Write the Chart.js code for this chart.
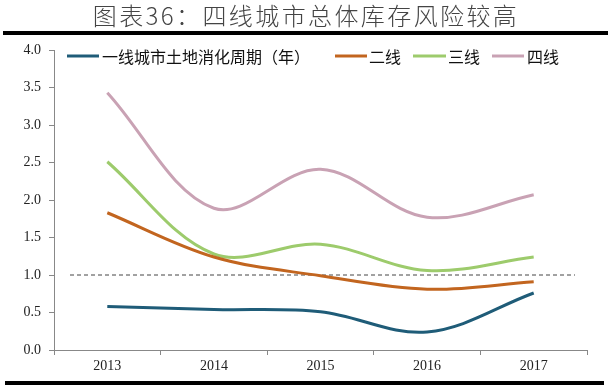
<!DOCTYPE html>
<html>
<head>
<meta charset="utf-8">
<script src="https://cdn.jsdelivr.net/npm/chart.js@4"></script>
<style>
  html, body { margin: 0; padding: 0; background: #fff; }
  #wrap { position: relative; width: 612px; height: 386px; overflow: hidden; }
  #title {
    position: absolute; left: 0; top: 0; width: 612px; height: 30px;
    text-align: center; line-height: 30px;
    font-family: "Noto Sans CJK SC", sans-serif; font-size: 24px; font-weight: 300;
    letter-spacing: 2.4px; color: #444;
  }
  .rule { position: absolute; background: #000; }
  #chart { position: absolute; left: 0; top: 0; }
</style>
</head>
<body>
<div id="wrap">
  <canvas id="chart" width="612" height="386"></canvas>
  <div id="title">图表36：四线城市总体库存风险较高</div>
  <div class="rule" style="left:3px; top:31px; width:605px; height:4px;"></div>
  <div class="rule" style="left:5px; top:381px; width:599px; height:4px;"></div>
</div>
<script>
// Data
const years = ['2013', '2014', '2015', '2016', '2017'];
const tier1 = [0.58, 0.54, 0.51, 0.24, 0.76];
const tier2 = [1.83, 1.24, 0.99, 0.81, 0.91];
const tier3 = [2.51, 1.28, 1.41, 1.06, 1.24];
const tier4 = [3.43, 1.89, 2.41, 1.77, 2.07];
const refLevel = 1.0;

const seriesNames = ['一线城市土地消化周期（年）', '二线', '三线', '四线'];
const colors = ['#1F5C78', '#C2651F', '#9DCB6C', '#C9A2B4'];

// Legend drawn inside the plot area
const legendPlugin = {
    id: 'insideLegend',
    afterDraw(chart) {
        const c = chart.ctx;
        const items = [
            { x0: 67, x1: 99, tx: 102 },
            { x0: 335, x1: 367, tx: 369 },
            { x0: 413, x1: 446, tx: 448 },
            { x0: 492, x1: 524, tx: 527 }
        ];
        const y = 56;
        c.save();
        c.font = '16px "Noto Sans CJK SC"';
        c.textBaseline = 'middle';
        items.forEach((it, k) => {
            c.strokeStyle = colors[k];
            c.lineWidth = 3;
            c.beginPath();
            c.moveTo(it.x0, y);
            c.lineTo(it.x1, y);
            c.stroke();
            c.fillStyle = '#111';
            c.fillText(seriesNames[k], it.tx, y + 1);
        });
        c.restore();
    }
};

// Dashed reference line at 1.0
const refLinePlugin = {
    id: 'refLine',
    beforeDatasetsDraw(chart) {
        const c = chart.ctx;
        const yPix = chart.scales.y.getPixelForValue(refLevel);
        c.save();
        c.strokeStyle = '#444';
        c.lineWidth = 1;
        c.setLineDash([4, 3]);
        c.beginPath();
        c.moveTo(chart.chartArea.left + 16, yPix);
        c.lineTo(chart.chartArea.right - 12, yPix);
        c.stroke();
        c.restore();
    }
};

const tickFont = { family: '"Liberation Serif", serif', size: 14 };

new Chart(document.getElementById('chart'), {
    type: 'line',
    data: {
        labels: years,
        datasets: [tier1, tier2, tier3, tier4].map((d, k) => ({
            label: seriesNames[k],
            data: d,
            borderColor: colors[k],
            borderWidth: 3,
            pointRadius: 0,
            tension: 0.35,
            fill: false
        }))
    },
    options: {
        responsive: false,
        animation: false,
        layout: { padding: { top: 50, right: 25, left: 0, bottom: 0 } },
        plugins: {
            legend: { display: false },
            tooltip: { enabled: false }
        },
        scales: {
            x: {
                offset: true,
                grid: { offset: true, drawOnChartArea: false, tickLength: 5, color: '#888' },
                border: { color: '#888' },
                ticks: { font: tickFont, color: '#222', padding: 3 },
                afterFit: s => { s.height = 36; }
            },
            y: {
                min: 0,
                max: 4,
                grid: { drawOnChartArea: false, tickLength: 5, color: '#888' },
                border: { color: '#888' },
                ticks: {
                    stepSize: 0.5,
                    font: tickFont,
                    color: '#222',
                    padding: 8,
                    callback: v => v.toFixed(1)
                },
                afterFit: s => { s.width = 54; }
            }
        }
    },
    plugins: [refLinePlugin, legendPlugin]
});
</script>
</body>
</html>
